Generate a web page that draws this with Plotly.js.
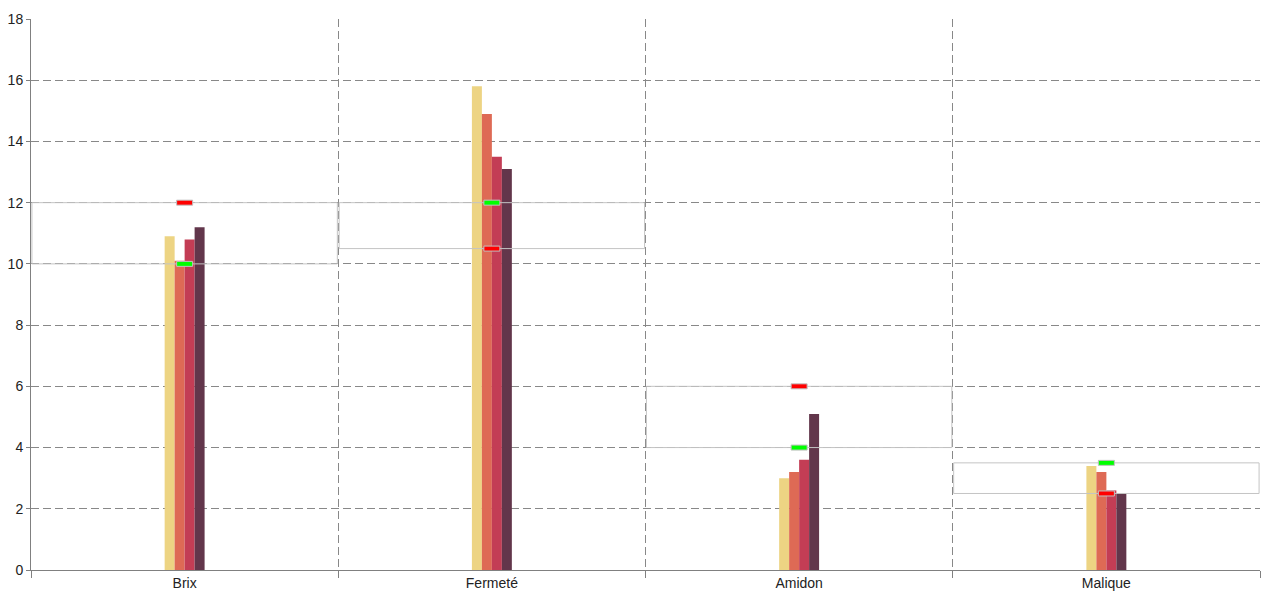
<!DOCTYPE html>
<html><head><meta charset="utf-8">
<script src="https://cdn.plot.ly/plotly-3.0.1.min.js"></script>
<style>html,body{margin:0;padding:0;background:#fff}#chart{width:1280px;height:600px}</style>
</head><body><div id="chart"></div>
<script>
const categories = ['Brix', 'Fermeté', 'Amidon', 'Malique'];
const series1 = [10.9, 15.8, 3.0, 3.4];
const series2 = [10.1, 14.9, 3.2, 3.2];
const series3 = [10.8, 13.5, 3.6, 2.6];
const series4 = [11.2, 13.1, 5.1, 2.5];
const greenVals = [10, 12, 4, 3.5];
const redVals = [12, 10.5, 6, 2.5];

const seriesList = [series1, series2, series3, series4];
const colors = ['#EDD483', '#DE6A55', '#C33D55', '#62364B'];

const traces = seriesList.map((vals, k) => ({
  type: 'bar', x: categories, y: vals,
  marker: {color: colors[k], line: {width: 0}},
  hoverinfo: 'skip', showlegend: false
}));

const shapes = [];
categories.forEach((c, i) => {
  const lo = Math.min(greenVals[i], redVals[i]);
  const hi = Math.max(greenVals[i], redVals[i]);
  shapes.push({type: 'rect', xref: 'x', yref: 'y', x0: i - 0.497, x1: i + 0.497, y0: lo, y1: hi,
    line: {color: '#c4c4c4', width: 1}, fillcolor: 'rgba(0,0,0,0)', layer: 'above'});
});
categories.forEach((c, i) => {
  [[greenVals[i], '#00ff00'], [redVals[i], '#ff0000']].forEach(([v, col]) => {
    shapes.push({type: 'rect', xref: 'x', yref: 'y',
      xsizemode: 'pixel', xanchor: i, x0: -8, x1: 8,
      ysizemode: 'pixel', yanchor: v, y0: -2.5, y1: 2.5,
      fillcolor: col, line: {color: '#c0c0c0', width: 1}, layer: 'above'});
  });
});

const font = {family: 'Liberation Sans, Arial, sans-serif', size: 14, color: '#222'};
const layout = {
  width: 1280, height: 600,
  margin: {l: 31, r: 20, t: 19, b: 30},
  paper_bgcolor: '#fff', plot_bgcolor: '#fff',
  barmode: 'group', bargap: 0.87, bargroupgap: 0,
  showlegend: false,
  font: font,
  xaxis: {type: 'category', range: [-0.5, 3.5], tickson: 'boundaries', ticks: 'outside', ticklen: 7,
    tickcolor: '#808080', showgrid: true, gridcolor: '#888', griddash: '8px,4px', gridwidth: 1,
    showline: true, linecolor: '#808080', linewidth: 1, zeroline: false, tickfont: font, fixedrange: true},
  yaxis: {range: [0, 18], dtick: 2, tick0: 0, ticks: 'outside', ticklen: 4, tickcolor: '#808080',
    showgrid: true, gridcolor: '#888', griddash: '8px,4px', gridwidth: 1,
    showline: true, linecolor: '#808080', linewidth: 1, zeroline: false, tickfont: font, fixedrange: true},
  shapes: shapes
};
Plotly.newPlot('chart', traces, layout, {displayModeBar: false, staticPlot: true});
</script>
</body></html>
